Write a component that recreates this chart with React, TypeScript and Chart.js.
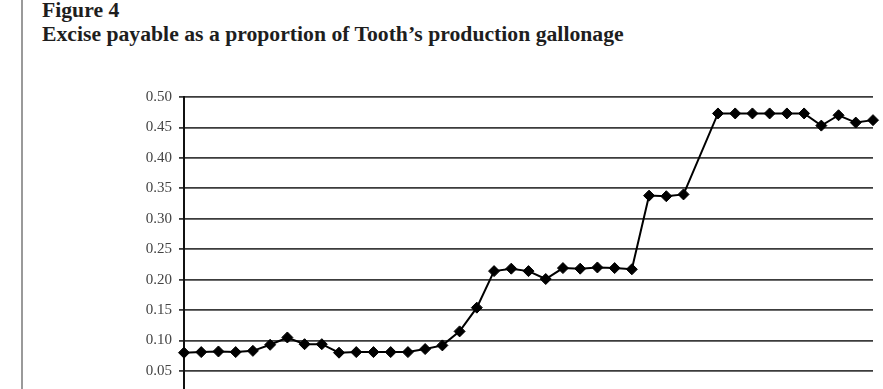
import React, { useEffect, useRef } from "react";
import { Chart, registerables } from "chart.js";

Chart.register(...registerables);

const titleLine1 = "Figure 4";
const titleLine2 = "Excise payable as a proportion of Tooth\u2019s production gallonage";

const periods: string[] = Array.from({ length: 41 }, (_, i) => String(i + 1));

const excisePropValues: (number | null)[] = [
  0.080, 0.081, 0.082, 0.081, 0.083, 0.093, 0.105, 0.094, 0.094, 0.080,
  0.081, 0.081, 0.081, 0.081, 0.086, 0.092, 0.115, 0.154, 0.214, 0.218,
  0.214, 0.201, 0.219, 0.218, 0.220, 0.219, 0.217, 0.338, 0.337, 0.340,
  null, 0.473, 0.473, 0.473, 0.473, 0.473, 0.473, 0.453, 0.470, 0.458,
  0.462,
];

const yMin = 0;
const yMax = 0.5;
const yStep = 0.05;

export default function App() {
  const canvasRef = useRef<HTMLCanvasElement | null>(null);

  useEffect(() => {
    document.body.style.margin = "0";
    const canvas = canvasRef.current;
    if (!canvas) return;
    const chart = new Chart(canvas, {
      type: "line",
      data: {
        labels: periods,
        datasets: [
          {
            data: excisePropValues,
            borderColor: "#000",
            borderWidth: 2,
            backgroundColor: "#000",
            pointStyle: "rectRot",
            pointRadius: 5.5,
            pointBorderWidth: 1,
            pointBackgroundColor: "#000",
            pointBorderColor: "#000",
            tension: 0,
            spanGaps: true,
            clip: false,
          },
        ],
      },
      options: {
        responsive: false,
        animation: false,
        layout: { padding: { top: 97, right: 10, left: 0, bottom: 28.6 } },
        plugins: {
          legend: { display: false },
          tooltip: { enabled: false },
          title: { display: false },
        },
        scales: {
          x: {
            type: "category",
            offset: false,
            display: false,
          },
          y: {
            min: yMin,
            max: yMax,
            afterFit: (s: any) => {
              s.width = 184;
            },
            ticks: {
              stepSize: yStep,
              padding: 7,
              color: "#444",
              font: { family: "'Liberation Serif', 'Times New Roman', serif", size: 15 },
              callback: (v: any) => Number(v).toFixed(2),
            },
            grid: {
              color: "#3c3c3c",
              lineWidth: 1.8,
              tickLength: 5,
              drawTicks: true,
            },
            border: { display: true, color: "#111", width: 2 },
          },
        },
      },
    });
    return () => chart.destroy();
  }, []);

  const titleStyle: React.CSSProperties = {
    position: "absolute",
    left: 42,
    fontFamily: "'Liberation Serif', 'Times New Roman', serif",
    fontWeight: "bold",
    fontSize: "21.7px",
    lineHeight: "24px",
    color: "#1e1e1e",
    whiteSpace: "nowrap",
    margin: 0,
  };

  return (
    <div
      style={{
        position: "fixed",
        left: 0,
        top: 0,
        width: 883,
        height: 389,
        overflow: "hidden",
        background: "#fff",
      }}
    >
      <div
        style={{
          position: "absolute",
          left: 21,
          top: 0,
          width: 2,
          height: 389,
          background: "#9a9a9a",
        }}
      />
      <div style={{ ...titleStyle, top: -2 }}>{titleLine1}</div>
      <div style={{ ...titleStyle, top: 21.5 }}>{titleLine2}</div>
      <canvas
        ref={canvasRef}
        width={883}
        height={430}
        style={{ position: "absolute", left: 0, top: 0, width: 883, height: 430 }}
      />
    </div>
  );
}
